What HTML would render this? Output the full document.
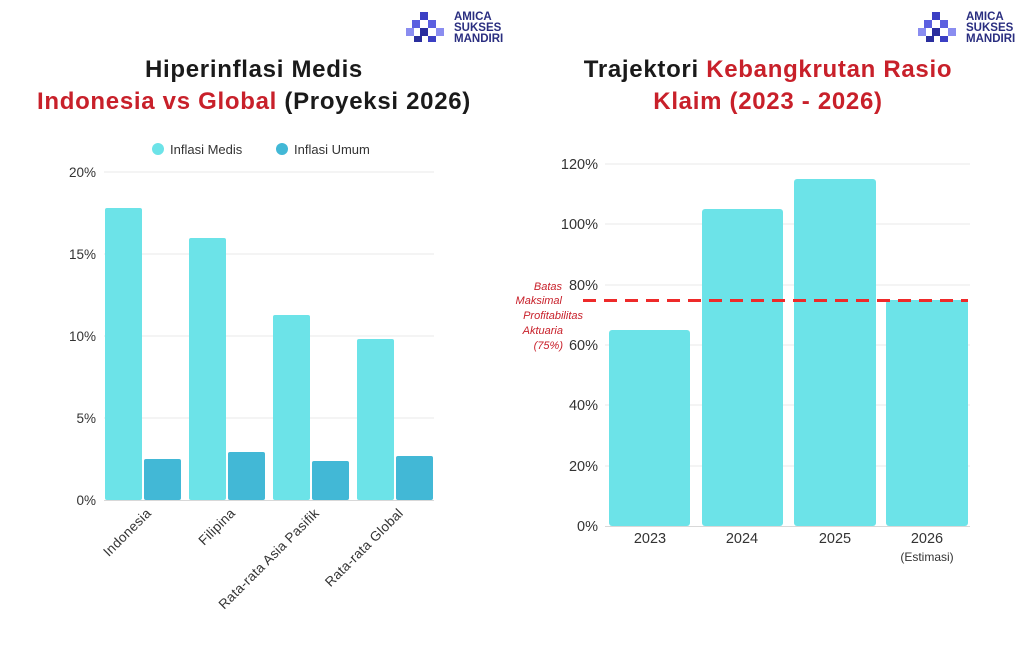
<!DOCTYPE html>
<html><head><meta charset="utf-8"><style>
body{margin:0;width:1024px;height:640px;background:#fff;overflow:hidden;font-family:"Liberation Sans",sans-serif}
</style></head><body>
<svg width="1024" height="640" xmlns="http://www.w3.org/2000/svg" font-family="Liberation Sans, sans-serif">
<g id="logo">
<rect x="420" y="12" width="8" height="8" fill="#3b3fc4"/>
<rect x="412" y="20" width="8" height="8" fill="#5b5fe0"/><rect x="428" y="20" width="8" height="8" fill="#5b5fe0"/>
<rect x="406" y="28" width="8" height="8" fill="#8a8df0"/><rect x="420" y="28" width="8" height="8" fill="#2a2e9e"/><rect x="436" y="28" width="8" height="8" fill="#8a8df0"/>
<rect x="414" y="36" width="8" height="6" fill="#2a2e9e"/><rect x="428" y="36" width="8" height="6" fill="#3b3fc4"/>
<text x="454" y="20" font-size="11.5" font-weight="bold" fill="#2a2e80">AMICA</text>
<text x="454" y="31" font-size="11.5" font-weight="bold" fill="#2a2e80">SUKSES</text>
<text x="454" y="42" font-size="11.5" font-weight="bold" fill="#2a2e80">MANDIRI</text>
</g>
<use href="#logo" x="512"/>
<g font-size="24" font-weight="bold" text-anchor="middle" letter-spacing="0.7">
<text x="254" y="77" fill="#1a1a1a">Hiperinflasi Medis</text>
<text x="254" y="109"><tspan fill="#c8202a">Indonesia vs Global</tspan><tspan fill="#1a1a1a"> (Proyeksi 2026)</tspan></text>
<text x="768" y="77"><tspan fill="#1a1a1a">Trajektori </tspan><tspan fill="#c8202a">Kebangkrutan Rasio</tspan></text>
<text x="768" y="109" fill="#c8202a">Klaim (2023 - 2026)</text>
</g>
<circle cx="158" cy="149" r="6" fill="#6ce3e8"/><text x="170" y="154" font-size="13" fill="#333">Inflasi Medis</text>
<circle cx="282" cy="149" r="6" fill="#42b8d6"/><text x="294" y="154" font-size="13" fill="#333">Inflasi Umum</text>
<g stroke="#e8e8e8" stroke-width="1">
<line x1="104" y1="172" x2="434" y2="172"/><line x1="104" y1="254" x2="434" y2="254"/>
<line x1="104" y1="336" x2="434" y2="336"/><line x1="104" y1="418" x2="434" y2="418"/>
</g>
<line x1="104" y1="500.5" x2="434" y2="500.5" stroke="#d8d8d8"/>
<g font-size="13.5" fill="#333" text-anchor="end">
<text x="96" y="177">20%</text><text x="96" y="259">15%</text><text x="96" y="341">10%</text><text x="96" y="423">5%</text><text x="96" y="505">0%</text>
</g>
<g fill="#6ce3e8">
<rect x="105" y="208" width="37" height="292" rx="2"/><rect x="189" y="238" width="37" height="262" rx="2"/>
<rect x="273" y="315" width="37" height="185" rx="2"/><rect x="357" y="339" width="37" height="161" rx="2"/>
</g>
<g fill="#42b8d6">
<rect x="144" y="459" width="37" height="41" rx="2"/><rect x="228" y="452" width="37" height="48" rx="2"/>
<rect x="312" y="461" width="37" height="39" rx="2"/><rect x="396" y="456" width="37" height="44" rx="2"/>
</g>
<g font-size="13.5" fill="#333" text-anchor="end" letter-spacing="0.3">
<text transform="translate(152,514) rotate(-45)">Indonesia</text>
<text transform="translate(236,514) rotate(-45)">Filipina</text>
<text transform="translate(320,514) rotate(-45)">Rata-rata Asia Pasifik</text>
<text transform="translate(404,514) rotate(-45)">Rata-rata Global</text>
</g>
<g stroke="#e8e8e8">
<line x1="605" y1="164" x2="970" y2="164"/><line x1="605" y1="224" x2="970" y2="224"/>
<line x1="605" y1="285" x2="970" y2="285"/><line x1="605" y1="345" x2="970" y2="345"/>
<line x1="605" y1="405" x2="970" y2="405"/><line x1="605" y1="466" x2="970" y2="466"/>
</g>
<line x1="605" y1="526.5" x2="970" y2="526.5" stroke="#d8d8d8"/>
<g font-size="14.5" fill="#333" text-anchor="end">
<text x="598" y="169">120%</text><text x="598" y="229">100%</text><text x="598" y="290">80%</text>
<text x="598" y="350">60%</text><text x="598" y="410">40%</text><text x="598" y="471">20%</text><text x="598" y="531">0%</text>
</g>
<g fill="#6ce3e8">
<rect x="609" y="330" width="81" height="196" rx="3"/><rect x="702" y="209" width="81" height="317" rx="3"/>
<rect x="794" y="179" width="82" height="347" rx="3"/><rect x="886" y="300" width="82" height="226" rx="3"/>
</g>
<line x1="583" y1="300.5" x2="968" y2="300.5" stroke="#ee2a2a" stroke-width="3" stroke-dasharray="13,8"/>
<g font-size="11" font-style="italic" fill="#c8202a" text-anchor="end">
<text x="562" y="290">Batas</text><text x="562" y="304">Maksimal</text><text x="583" y="319">Profitabilitas</text>
<text x="563" y="334">Aktuaria</text><text x="563" y="349">(75%)</text>
</g>
<g font-size="14.5" fill="#333" text-anchor="middle">
<text x="650" y="543">2023</text><text x="742" y="543">2024</text><text x="835" y="543">2025</text><text x="927" y="543">2026</text>
<text x="927" y="561" font-size="12">(Estimasi)</text>
</g>
</svg>
</body></html>
